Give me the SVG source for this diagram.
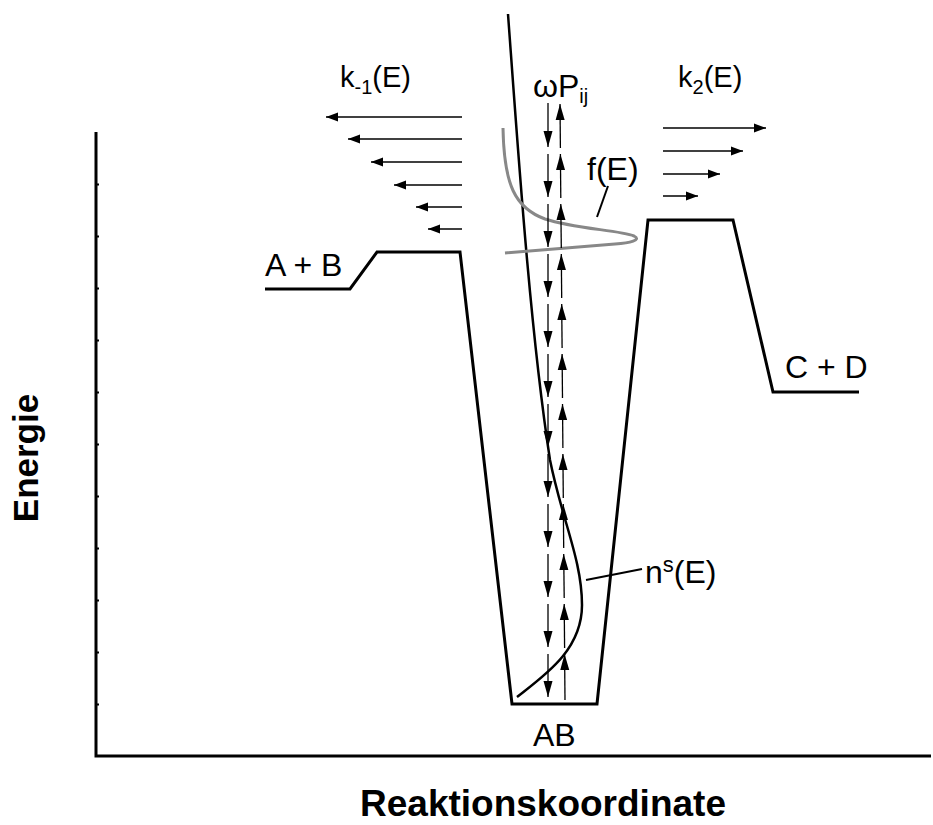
<svg xmlns="http://www.w3.org/2000/svg" width="933" height="825" viewBox="0 0 933 825">
  <defs>
    <marker id="headSmall" markerUnits="userSpaceOnUse" markerWidth="14" markerHeight="10" refX="12" refY="5" orient="auto">
      <path d="M0,0.5 L12,5 L0,9.5 Z" fill="#000"/>
    </marker>
    <marker id="headLong" markerUnits="userSpaceOnUse" markerWidth="18" markerHeight="10" refX="16" refY="5" orient="auto">
      <path d="M0,0.5 L16,5 L0,9.5 Z" fill="#000"/>
    </marker>
    <marker id="headStart" markerUnits="userSpaceOnUse" markerWidth="18" markerHeight="10" refX="0" refY="5" orient="auto">
      <path d="M16,0.5 L0,5 L16,9.5 Z" fill="#000"/>
    </marker>
  </defs>
  <style>
    text { font-family: "Liberation Sans", Arial, sans-serif; fill: #000; }
    .lbl { font-size: 32px; }
    .klbl { font-size: 29px; }
    .sub { font-size: 20px; }
    .title { font-size: 37px; font-weight: bold; }
    .axis { stroke: #000; stroke-width: 3; fill: none; }
    .tick { stroke: #000; stroke-width: 2; }
    .level { stroke: #000; stroke-width: 3; fill: none; stroke-linejoin: miter; }
    .rate { stroke: #000; stroke-width: 1.5; fill: none; }
    .trans { stroke: #000; stroke-width: 1.3; fill: none; }
    .dist { stroke: #000; stroke-width: 2.5; fill: none; }
    .thermal { stroke: #888; stroke-width: 3; fill: none; }
    .pointer { stroke: #000; stroke-width: 2; }
  </style>

  <rect width="933" height="825" fill="#fff"/>

  <!-- axes -->
  <g id="axes">
    <path class="axis" d="M96,132 L96,756 L931,756"/>
    <g class="tick">
      <line x1="96" y1="184.5" x2="99" y2="184.5"/>
      <line x1="96" y1="236.5" x2="99" y2="236.5"/>
      <line x1="96" y1="288.5" x2="99" y2="288.5"/>
      <line x1="96" y1="340.5" x2="99" y2="340.5"/>
      <line x1="96" y1="392.5" x2="99" y2="392.5"/>
      <line x1="96" y1="444.5" x2="99" y2="444.5"/>
      <line x1="96" y1="496.5" x2="99" y2="496.5"/>
      <line x1="96" y1="548.5" x2="99" y2="548.5"/>
      <line x1="96" y1="600.5" x2="99" y2="600.5"/>
      <line x1="96" y1="652.5" x2="99" y2="652.5"/>
      <line x1="96" y1="704.5" x2="99" y2="704.5"/>
    </g>
    <text class="title" transform="translate(38,458) rotate(-90)" text-anchor="middle" style="font-size:35px">Energie</text>
    <text class="title" x="543" y="816" text-anchor="middle">Reaktionskoordinate</text>
  </g>

  <!-- energy profile: A+B, well AB, barrier, C+D -->
  <g id="profile">
    <path class="level" d="M265,289 L350,289 L377,252 L460,252 L512,704 L597,704 L648,220 L733,220 L773,392 L859,392"/>
  </g>

  <g id="label-AB-reactants"><text class="lbl" x="265" y="276">A + B</text></g>
  <g id="label-CD-products"><text class="lbl" x="785" y="378">C + D</text></g>
  <g id="label-AB"><text class="lbl" x="533" y="746">AB</text></g>

  <!-- distribution curves -->
  <g id="ns-curve">
    <path class="dist" d="M508,14 C518,150 530,330 550,460 C562,520 582,560 582,605 C582,650 545,675 517,697"/>
  </g>
  <g id="fE-curve">
    <path class="thermal" d="M503,128 C504,185 515,208 545,219 C575,229 620,230 634,236 C642,240 630,243 615,244 C580,247 540,250 505,253"/>
  </g>

  <!-- labels with pointers -->
  <g id="label-fE">
    <text class="lbl" x="587" y="180">f(E)</text>
    <line class="pointer" x1="608" y1="186" x2="597" y2="217"/>
  </g>
  <g id="label-nsE">
    <text class="lbl" x="645" y="583">n<tspan style="font-size:22px" dy="-11">s</tspan><tspan dy="11">(E)</tspan></text>
    <line class="pointer" x1="586" y1="580" x2="642" y2="569"/>
  </g>
  <g id="label-k-1">
    <text class="klbl" x="340" y="87">k<tspan class="sub" dy="7">-1</tspan><tspan dy="-7">(E)</tspan></text>
  </g>
  <g id="label-k2">
    <text class="klbl" x="678" y="87">k<tspan class="sub" dy="7">2</tspan><tspan dy="-7">(E)</tspan></text>
  </g>
  <g id="label-wPij">
    <text x="533" y="97" style="font-size:32px">ωP<tspan class="sub" dy="6">ij</tspan></text>
  </g>

  <!-- connectors: dissociation arrows, collisional transfer ladders -->
  <g id="connectors">
    <g id="k-1-arrows">
      <line class="rate" x1="462" y1="117" x2="326" y2="117" marker-end="url(#headSmall)"/>
      <line class="rate" x1="462" y1="139" x2="348" y2="139" marker-end="url(#headSmall)"/>
      <line class="rate" x1="462" y1="162" x2="371" y2="162" marker-end="url(#headSmall)"/>
      <line class="rate" x1="462" y1="185" x2="394" y2="185" marker-end="url(#headSmall)"/>
      <line class="rate" x1="462" y1="207" x2="416" y2="207" marker-end="url(#headSmall)"/>
      <line class="rate" x1="462" y1="229" x2="428" y2="229" marker-end="url(#headSmall)"/>
    </g>
    <g id="k2-arrows">
      <line class="rate" x1="663" y1="128" x2="766" y2="128" marker-end="url(#headSmall)"/>
      <line class="rate" x1="663" y1="151" x2="743" y2="151" marker-end="url(#headSmall)"/>
      <line class="rate" x1="663" y1="174" x2="720" y2="174" marker-end="url(#headSmall)"/>
      <line class="rate" x1="663" y1="196" x2="698" y2="196" marker-end="url(#headSmall)"/>
    </g>
    <g id="down-transfers">
      <line class="trans" x1="548" y1="103" x2="548" y2="147" marker-end="url(#headLong)"/>
      <line class="trans" x1="548" y1="154" x2="548" y2="197" marker-end="url(#headLong)"/>
      <line class="trans" x1="548" y1="204" x2="548" y2="247" marker-end="url(#headLong)"/>
      <line class="trans" x1="548" y1="254" x2="548" y2="297" marker-end="url(#headLong)"/>
      <line class="trans" x1="548" y1="304" x2="548" y2="347" marker-end="url(#headLong)"/>
      <line class="trans" x1="548" y1="354" x2="548" y2="397" marker-end="url(#headLong)"/>
      <line class="trans" x1="548" y1="404" x2="548" y2="447" marker-end="url(#headLong)"/>
      <line class="trans" x1="548" y1="454" x2="548" y2="497" marker-end="url(#headLong)"/>
      <line class="trans" x1="548" y1="504" x2="548" y2="547" marker-end="url(#headLong)"/>
      <line class="trans" x1="548" y1="554" x2="548" y2="597" marker-end="url(#headLong)"/>
      <line class="trans" x1="548" y1="604" x2="548" y2="647" marker-end="url(#headLong)"/>
      <line class="trans" x1="548" y1="654" x2="548" y2="697" marker-end="url(#headLong)"/>
    </g>
    <g id="up-transfers">
      <line class="trans" x1="560.0" y1="104" x2="560.4" y2="148" marker-start="url(#headStart)"/>
      <line class="trans" x1="560.4" y1="154" x2="560.8" y2="198" marker-start="url(#headStart)"/>
      <line class="trans" x1="560.8" y1="204" x2="561.3" y2="248" marker-start="url(#headStart)"/>
      <line class="trans" x1="561.3" y1="254" x2="561.7" y2="298" marker-start="url(#headStart)"/>
      <line class="trans" x1="561.7" y1="304" x2="562.1" y2="348" marker-start="url(#headStart)"/>
      <line class="trans" x1="562.1" y1="354" x2="562.5" y2="398" marker-start="url(#headStart)"/>
      <line class="trans" x1="562.5" y1="404" x2="562.9" y2="448" marker-start="url(#headStart)"/>
      <line class="trans" x1="562.9" y1="454" x2="563.3" y2="498" marker-start="url(#headStart)"/>
      <line class="trans" x1="563.3" y1="504" x2="563.7" y2="548" marker-start="url(#headStart)"/>
      <line class="trans" x1="563.7" y1="554" x2="564.2" y2="598" marker-start="url(#headStart)"/>
      <line class="trans" x1="564.2" y1="604" x2="564.6" y2="648" marker-start="url(#headStart)"/>
      <line class="trans" x1="564.6" y1="654" x2="565.0" y2="700" marker-start="url(#headStart)"/>
    </g>
  </g>
</svg>
